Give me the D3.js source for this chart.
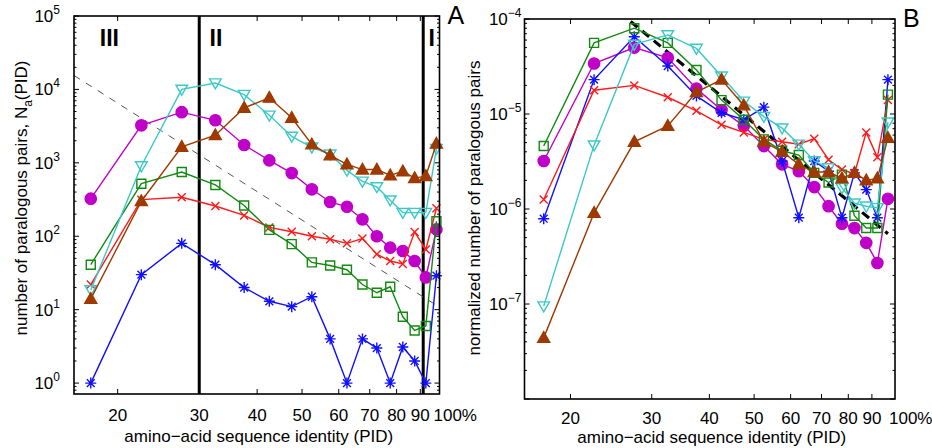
<!DOCTYPE html>
<html>
<head>
<meta charset="utf-8">
<script src="https://cdnjs.cloudflare.com/ajax/libs/d3/7.8.5/d3.min.js"></script>
<style>
body { margin: 0; background: #fff; }
svg { display: block; font-family: "Liberation Sans", Arial, Helvetica, sans-serif; }
</style>
</head>
<body>
<svg id="chart" width="932" height="448"></svg>
<script>
// bin centres of the PID histogram (%)
var pid = [17.5, 22.5, 27.5, 32.5, 37.5, 42.5, 47.5, 52.5, 57.5, 62.5, 67.5, 72.5, 77.5, 82.5, 87.5, 92.5, 97.5];
var xTicks = [20, 30, 40, 50, 60, 70, 80, 90];
var yTicksA = [0, 1, 2, 3, 4, 5];      // exponents
var yTicksB = [-7, -6, -5, -4];

// panel A : number of paralogous pairs
var blueA    = [1, 30, 80, 41, 20, 13, 11, 15, 4, 1, 4, 3, 1, 3.1, 2, 1, 29];
var redA     = [22, 315, 340, 258, 192, 132, 115, 100, 91, 80, 93, 57, 46, 42, 114, 66, 240];
var greenA   = [41, 520, 750, 500, 262, 122, 78, 44, 40, 35, 22, 17, 20.5, 8, 5.2, 6, 160];
var cyanA    = [18.6, 905, 10000, 12200, 8500, 4440, 2290, 1630, 1310, 790, 560, 470, 310, 210, 210, 210, 1560];
var magentaA = [325, 3240, 4900, 3800, 1750, 1080, 725, 436, 293, 252, 170, 100, 70, 63, 46, 27.5, 124];
var brownA   = [14, 300, 1650, 2380, 5600, 7700, 4100, 1780, 1260, 955, 810, 810, 675, 765, 620, 660, 1820];

// panel B : normalized number of paralogous pairs
var blueB    = [7.9e-7, 2.3e-5, 6.5e-5, 3.2e-5, 1.55e-5, 1.03e-5, 8.7e-6, 1.18e-5, 3.2e-6, 8.1e-7, 3.2e-6, 2.5e-6, 8.1e-7, 2.4e-6, 1.6e-6, 8.1e-7, 2.3e-5];
var redB     = [1.26e-6, 1.78e-5, 2e-5, 1.5e-5, 1.08e-5, 7.7e-6, 6.4e-6, 5.4e-6, 5.1e-6, 4.8e-6, 5.5e-6, 3.3e-6, 2.6e-6, 2.35e-6, 6.4e-6, 3.5e-6, 1.4e-5];
var greenB   = [4.6e-6, 5.6e-5, 8e-5, 5.6e-5, 2.9e-5, 1.4e-5, 8.7e-6, 5.4e-6, 4.1e-6, 3.7e-6, 2.4e-6, 1.9e-6, 2.3e-6, 8.5e-7, 6.3e-7, 6.3e-7, 1.6e-5];
var cyanB    = [9.5e-8, 4.7e-6, 5.4e-5, 6.8e-5, 4.9e-5, 2.5e-5, 1.36e-5, 9.4e-6, 7.1e-6, 4.8e-6, 3.2e-6, 2.7e-6, 1.67e-6, 1.15e-6, 1.07e-6, 1.03e-6, 8.2e-6];
var magentaB = [3.2e-6, 3.4e-5, 5e-5, 3.9e-5, 1.85e-5, 1.1e-5, 7.5e-6, 4.6e-6, 2.95e-6, 2.5e-6, 1.7e-6, 1.07e-6, 7e-7, 6.3e-7, 4.4e-7, 2.7e-7, 1.28e-6];
var brownB   = [4.4e-8, 9.1e-7, 5.1e-6, 7.5e-6, 1.7e-5, 2.3e-5, 1.23e-5, 5.1e-6, 4e-6, 2.95e-6, 2.45e-6, 2.45e-6, 2.1e-6, 2.4e-6, 2e-6, 2.1e-6, 5.6e-6];

// PID^-4 guide lines
var refLineA = [[16.1, 15480], [99, 10.8]];
var refLineB = [[27, 9.4e-5], [97.5, 5.5e-7]];

// region borders and names (panel A)
var regionBounds = [30, 91.3];
var regionNames = ["III", "II", "I"];

var series = [
	{A: magentaA, B: magentaB, color: "#c000c8", marker: "circle"},
	{A: blueA,    B: blueB,    color: "#1010ff", marker: "star"},
	{A: redA,     B: redB,     color: "#ff1a1a", marker: "cross"},
	{A: greenA,   B: greenB,   color: "#128a12", marker: "square"},
	{A: cyanA,    B: cyanB,    color: "#3cc8c8", marker: "tridown"},
	{A: brownA,   B: brownB,   color: "#9e3a00", marker: "triup"}
];

var svg = d3.select("#chart");

function markerPath(type) {
	switch (type) {
		case "star":   return "M-5.5,0L5.5,0M0,-5.5L0,5.5M-3.9,-3.9L3.9,3.9M-3.9,3.9L3.9,-3.9";
		case "cross":  return "M-4,-4L4,4M-4,4L4,-4";
		case "square": return "M-4.5,-4.5h9v9h-9z";
		case "tridown":return "M-5.8,-4.2L5.8,-4.2L0,5.8Z";
		case "triup":  return "M0,-6.2L6,4.4L-6,4.4Z";
		case "circle": return d3.symbol().type(d3.symbolCircle).size(100)();
	}
}

function drawPanel(p) {
	var g = svg.append("g");
	var x = d3.scaleLog().domain(p.xDomain).range([p.left, p.right]);
	var y = d3.scaleLog().domain(p.yDomain).range([p.bottom, p.top]);

	var clipId = "clip" + p.key;
	svg.append("clipPath").attr("id", clipId).append("rect")
		.attr("x", p.left).attr("y", p.top)
		.attr("width", p.right - p.left).attr("height", p.bottom - p.top);

	// ticks, inward on all four sides
	var ticks = g.append("g").attr("stroke", "#000").attr("stroke-width", 1);
	xTicks.forEach(function(t) {
		ticks.append("line").attr("x1", x(t)).attr("x2", x(t)).attr("y1", p.bottom).attr("y2", p.bottom - 5);
		ticks.append("line").attr("x1", x(t)).attr("x2", x(t)).attr("y1", p.top).attr("y2", p.top + 5);
	});
	var lo = Math.floor(Math.log10(p.yDomain[0])), hi = Math.ceil(Math.log10(p.yDomain[1]));
	for (var e = lo; e <= hi; e++) {
		for (var m = 1; m <= 9; m++) {
			var v = m * Math.pow(10, e);
			if (v < p.yDomain[0] || v > p.yDomain[1] * 1.001) continue;
			var len = m == 1 ? 5 : 2.5;
			ticks.append("line").attr("x1", p.left).attr("x2", p.left + len).attr("y1", y(v)).attr("y2", y(v));
			ticks.append("line").attr("x1", p.right).attr("x2", p.right - len).attr("y1", y(v)).attr("y2", y(v));
		}
	}

	// x tick labels
	g.append("g").selectAll("text").data(xTicks).join("text")
		.attr("x", function(d) { return x(d); })
		.attr("y", p.bottom + p.xLabelGap)
		.attr("text-anchor", "middle")
		.style("font-size", "17px")
		.text(function(d) { return d; });
	g.append("text")
		.attr("x", p.right - 6).attr("y", p.bottom + p.xLabelGap)
		.style("font-size", "17px")
		.text("100%");

	// y tick labels 10^n
	var yl = g.append("g").selectAll("text").data(p.yTicks).join("text")
		.attr("x", p.left - p.labelGap)
		.attr("y", function(d) { return y(Math.pow(10, d)) + 6; })
		.attr("text-anchor", "end")
		.style("font-size", "17px");
	yl.append("tspan").text("10");
	yl.append("tspan").attr("dy", -8).style("font-size", "12px")
		.text(function(d) { return d < 0 ? "\u2212" + (-d) : d; });

	// titles
	g.append("text")
		.attr("x", (p.left + p.right) / 2 + 2).attr("y", p.xTitleY)
		.attr("text-anchor", "middle")
		.style("font-size", "17px")
		.text("amino\u2212acid sequence identity (PID)");
	var yt = g.append("text")
		.attr("transform", "translate(" + p.yTitleX + "," + p.yTitleY + ") rotate(-90)")
		.attr("text-anchor", "middle")
		.style("font-size", "17px");
	p.yTitle(yt);

	g.append("text")
		.attr("x", p.right + 8).attr("y", p.top + 8)
		.style("font-size", "25px")
		.text(p.key);

	var plot = g.append("g").attr("clip-path", "url(#" + clipId + ")");
	if (p.extra) p.extra(plot, x, y);

	// guide line
	var guide = d3.line().x(function(d) { return x(d[0]); }).y(function(d) { return y(d[1]); });
	plot.append("path")
		.attr("d", guide(p.refLine))
		.attr("fill", "none")
		.attr("stroke", p.key == "A" ? "#555" : "#000")
		.attr("stroke-width", p.key == "A" ? 1 : 3.2)
		.attr("stroke-dasharray", p.key == "A" ? "7,7" : "9,6");

	var line = d3.line()
		.x(function(d, i) { return x(pid[i]); })
		.y(function(d) { return y(d); });

	series.forEach(function(s) {
		var vals = s[p.key];
		var sg = g.append("g");
		sg.append("path")
			.attr("d", line(vals))
			.attr("fill", "none")
			.attr("stroke", s.color)
			.attr("stroke-width", 1.4);
		var filled = s.marker == "circle" || s.marker == "triup";
		sg.selectAll("path.mk").data(vals).join("path")
			.attr("class", "mk")
			.attr("transform", function(d, i) { return "translate(" + x(pid[i]) + "," + y(d) + ")"; })
			.attr("d", markerPath(s.marker))
			.attr("fill", filled ? s.color : "none")
			.attr("stroke", s.color)
			.attr("stroke-width", 1.4);
	});

	// frame
	g.append("rect")
		.attr("x", p.left).attr("y", p.top)
		.attr("width", p.right - p.left).attr("height", p.bottom - p.top)
		.attr("fill", "none").attr("stroke", "#000").attr("stroke-width", 1.6);
}

drawPanel({
	key: "A",
	xDomain: [16.1, 99], yDomain: [0.71, 1e5],
	left: 74, right: 439.5, top: 16, bottom: 394,
	yTicks: yTicksA, labelGap: 14, xLabelGap: 27, xTitleY: 442,
	yTitleX: 27, yTitleY: 198,
	refLine: refLineA,
	yTitle: function(t) {
		t.append("tspan").text("number of paralogous pairs, N");
		t.append("tspan").attr("dy", 5).style("font-size", "12px").text("a");
		t.append("tspan").attr("dy", -5).text("(PID)");
	},
	extra: function(plot, x, y) {
		var top = y.range()[1], bottom = y.range()[0];
		regionBounds.forEach(function(b) {
			plot.append("line")
				.attr("x1", x(b)).attr("x2", x(b))
				.attr("y1", top).attr("y2", bottom)
				.attr("stroke", "#000").attr("stroke-width", 3);
		});
		var namePos = [19.2, 32.6, 95.2];
		regionNames.forEach(function(n, i) {
			plot.append("text")
				.attr("x", x(namePos[i])).attr("y", top + 30)
				.attr("text-anchor", "middle")
				.style("font-size", "23px").style("font-weight", "bold")
				.text(n);
		});
	}
});

drawPanel({
	key: "B",
	xDomain: [15.9, 101], yDomain: [1e-8, 1e-4],
	left: 524.5, right: 895, top: 19, bottom: 399,
	yTicks: yTicksB, labelGap: 3, xLabelGap: 25, xTitleY: 443,
	yTitleX: 480, yTitleY: 208,
	refLine: refLineB,
	yTitle: function(t) { t.text("normalized number of paralogous pairs"); }
});
</script>
</body>
</html>
